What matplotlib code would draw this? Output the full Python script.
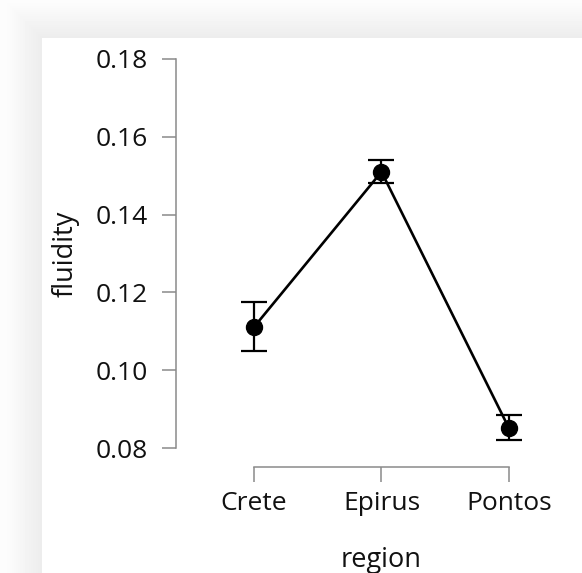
import numpy as np
import matplotlib
matplotlib.use('Agg')
import matplotlib.pyplot as plt

regions = ['Crete', 'Epirus', 'Pontos']
fluidity = [0.1111, 0.1510, 0.0851]
ci_lower = [0.1049, 0.1481, 0.0821]
ci_upper = [0.1175, 0.1540, 0.0885]

plt.rcParams['font.family'] = ['Open Sans', 'DejaVu Sans']

W, H = 582, 573
fig = plt.figure(figsize=(W / 100, H / 100), dpi=100)

# card background with soft shadow
bg = fig.add_axes([0, 0, 1, 1])
yy, xx = np.mgrid[0:H, 0:W]
card_x, card_y = 42, 38
d = np.maximum(card_x - xx, card_y - yy)
shade = np.where(d <= 0, 1.0, 0.925 + 0.065 * np.clip(d / 36, 0, 1))
bg.imshow(shade, cmap='gray', vmin=0, vmax=1, aspect='auto', interpolation='bilinear')
bg.axis('off')

ax = fig.add_axes([176 / W, 106 / H, (W - 176) / W, 408 / H])
ax.patch.set_alpha(0)

x = np.arange(len(regions))
y = np.array(fluidity)
err = [y - np.array(ci_lower), np.array(ci_upper) - y]
ax.plot(x, y, color='black', lw=1.9, zorder=2)
ax.errorbar(x, y, yerr=err, fmt='none', ecolor='black', elinewidth=1.6,
            capsize=9.5, capthick=1.6, zorder=3)
ax.plot(x, y, 'o', color='black', ms=11.5, zorder=4)

ax.set_xlim(-0.612, 2.573)
ax.set_ylim(0.08 - 19 / 3890, 0.18)
ax.set_yticks([0.08, 0.10, 0.12, 0.14, 0.16, 0.18])
ax.set_yticklabels(['0.08', '0.10', '0.12', '0.14', '0.16', '0.18'])
ax.set_xticks(x)
ax.set_xticklabels(regions)

for s in ['top', 'right']:
    ax.spines[s].set_visible(False)
ax.spines['left'].set_bounds(0.08, 0.18)
ax.spines['bottom'].set_bounds(0, 2)
for s in ['left', 'bottom']:
    ax.spines[s].set_color('#8a8a8a')
    ax.spines[s].set_linewidth(1.1)

ax.tick_params(axis='y', length=10, width=1.1, color='#8a8a8a', pad=10,
               labelsize=19, labelcolor='#111111')
ax.tick_params(axis='x', length=10.5, width=1.1, color='#8a8a8a', pad=7,
               labelsize=19, labelcolor='#111111')

ax.set_ylabel('fluidity', fontsize=19.5, color='#111111')
ax.set_xlabel('region', fontsize=19.5, color='#111111')
ax.xaxis.set_label_coords((381 - 176) / (W - 176), -(546 - 467) / 408)
ax.yaxis.set_label_coords(-(176 - 80) / (W - 176), 0.5 + (467 - 448) / 2 / 408)

fig.savefig('out.png', dpi=100)
